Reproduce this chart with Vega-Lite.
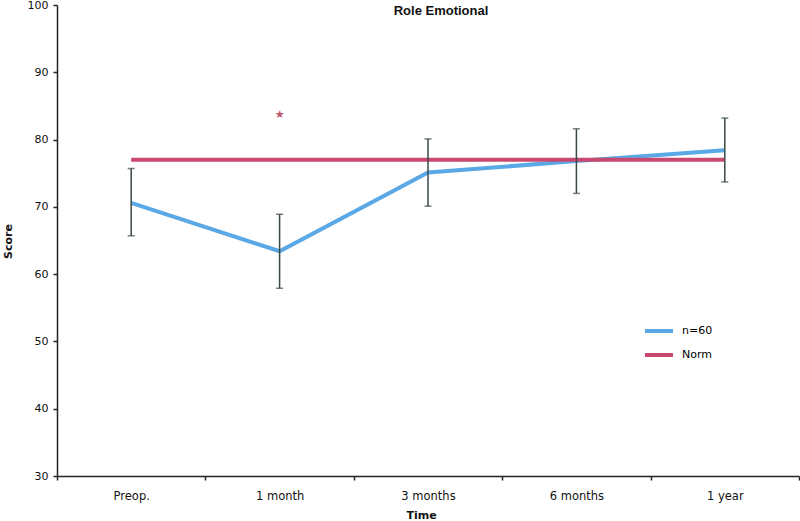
{
  "$schema": "https://vega.github.io/schema/vega-lite/v6.json",
  "width": 742,
  "height": 471,
  "autosize": {"type": "none"},
  "padding": {"left": 57, "top": 5, "right": 1, "bottom": 45},
  "background": "white",
  "config": {
    "view": {"stroke": null},
    "font": "DejaVu Sans",
    "axis": {
      "domainColor": "#222222",
      "tickColor": "#222222",
      "labelColor": "#111111",
      "titleColor": "#111111",
      "labelFontSize": 11,
      "titleFontSize": 11,
      "titleFontWeight": "bold",
      "grid": false,
      "domainWidth": 1.5,
      "tickWidth": 1.5,
      "tickSize": 4
    }
  },
  "title": {
    "text": "Role Emotional",
    "font": "Liberation Sans",
    "fontSize": 13,
    "fontWeight": "bold",
    "color": "#111111",
    "anchor": "middle",
    "offset": -19,
    "dx": 13
  },
  "datasets": {
    "series": [
      {"time": "Preop.", "group": "n=60", "score": 70.6},
      {"time": "1 month", "group": "n=60", "score": 63.4},
      {"time": "3 months", "group": "n=60", "score": 75.1},
      {"time": "6 months", "group": "n=60", "score": 76.8},
      {"time": "1 year", "group": "n=60", "score": 78.4},
      {"time": "Preop.", "group": "Norm", "score": 77.0},
      {"time": "1 month", "group": "Norm", "score": 77.0},
      {"time": "3 months", "group": "Norm", "score": 77.0},
      {"time": "6 months", "group": "Norm", "score": 77.0},
      {"time": "1 year", "group": "Norm", "score": 77.0}
    ],
    "errs": [
      {"time": "Preop.", "lo": 65.7, "hi": 75.7},
      {"time": "1 month", "lo": 57.9, "hi": 68.9},
      {"time": "3 months", "lo": 70.1, "hi": 80.1},
      {"time": "6 months", "lo": 72.0, "hi": 81.6},
      {"time": "1 year", "lo": 73.7, "hi": 83.2}
    ],
    "star": [
      {"time": "1 month", "score": 83.7, "label": "★"}
    ]
  },
  "encoding": {
    "x": {
      "field": "time",
      "type": "nominal",
      "scale": {
        "type": "band",
        "domain": ["Preop.", "1 month", "3 months", "6 months", "1 year"],
        "paddingInner": 0,
        "paddingOuter": 0
      },
      "axis": {
        "title": "Time",
        "labelAngle": 0,
        "labelFontSize": 11.5,
        "tickBand": "extent",
        "labelPadding": 10,
        "titlePadding": 8,
        "titleX": 364
      }
    }
  },
  "layer": [
    {
      "data": {"name": "series"},
      "mark": {"type": "line", "strokeWidth": 4},
      "encoding": {
        "y": {
          "field": "score",
          "type": "quantitative",
          "scale": {"domain": [30, 100], "nice": false, "zero": false},
          "axis": {
            "title": "Score",
            "values": [30, 40, 50, 60, 70, 80, 90, 100],
            "labelPadding": 5,
            "titleX": -49,
            "titleY": 236,
            "titleBaseline": "middle"
          }
        },
        "color": {
          "field": "group",
          "type": "nominal",
          "scale": {"domain": ["n=60", "Norm"], "range": ["#5aa9e6", "#c8486e"]},
          "legend": {
            "orient": "none",
            "legendX": 586,
            "legendY": 310,
            "title": null,
            "padding": 0,
            "symbolType": "stroke",
            "symbolStrokeWidth": 4,
            "symbolSize": 784,
            "labelFontSize": 11,
            "labelOffset": 7,
            "rowPadding": -2
          }
        }
      }
    },
    {
      "data": {"name": "errs"},
      "mark": {"type": "rule", "color": "#3b4848", "strokeWidth": 1.5},
      "encoding": {
        "y": {"field": "lo", "type": "quantitative", "title": "Score"},
        "y2": {"field": "hi"}
      }
    },
    {
      "data": {"name": "errs"},
      "mark": {"type": "tick", "color": "#3b4848", "size": 7, "thickness": 1.5},
      "encoding": {
        "y": {"field": "lo", "type": "quantitative", "title": "Score"}
      }
    },
    {
      "data": {"name": "errs"},
      "mark": {"type": "tick", "color": "#3b4848", "size": 7, "thickness": 1.5},
      "encoding": {
        "y": {"field": "hi", "type": "quantitative", "title": "Score"}
      }
    },
    {
      "data": {"name": "star"},
      "mark": {"type": "text", "color": "#c0566f", "fontSize": 11},
      "encoding": {
        "y": {"field": "score", "type": "quantitative", "title": "Score"},
        "text": {"field": "label"}
      }
    }
  ]
}
